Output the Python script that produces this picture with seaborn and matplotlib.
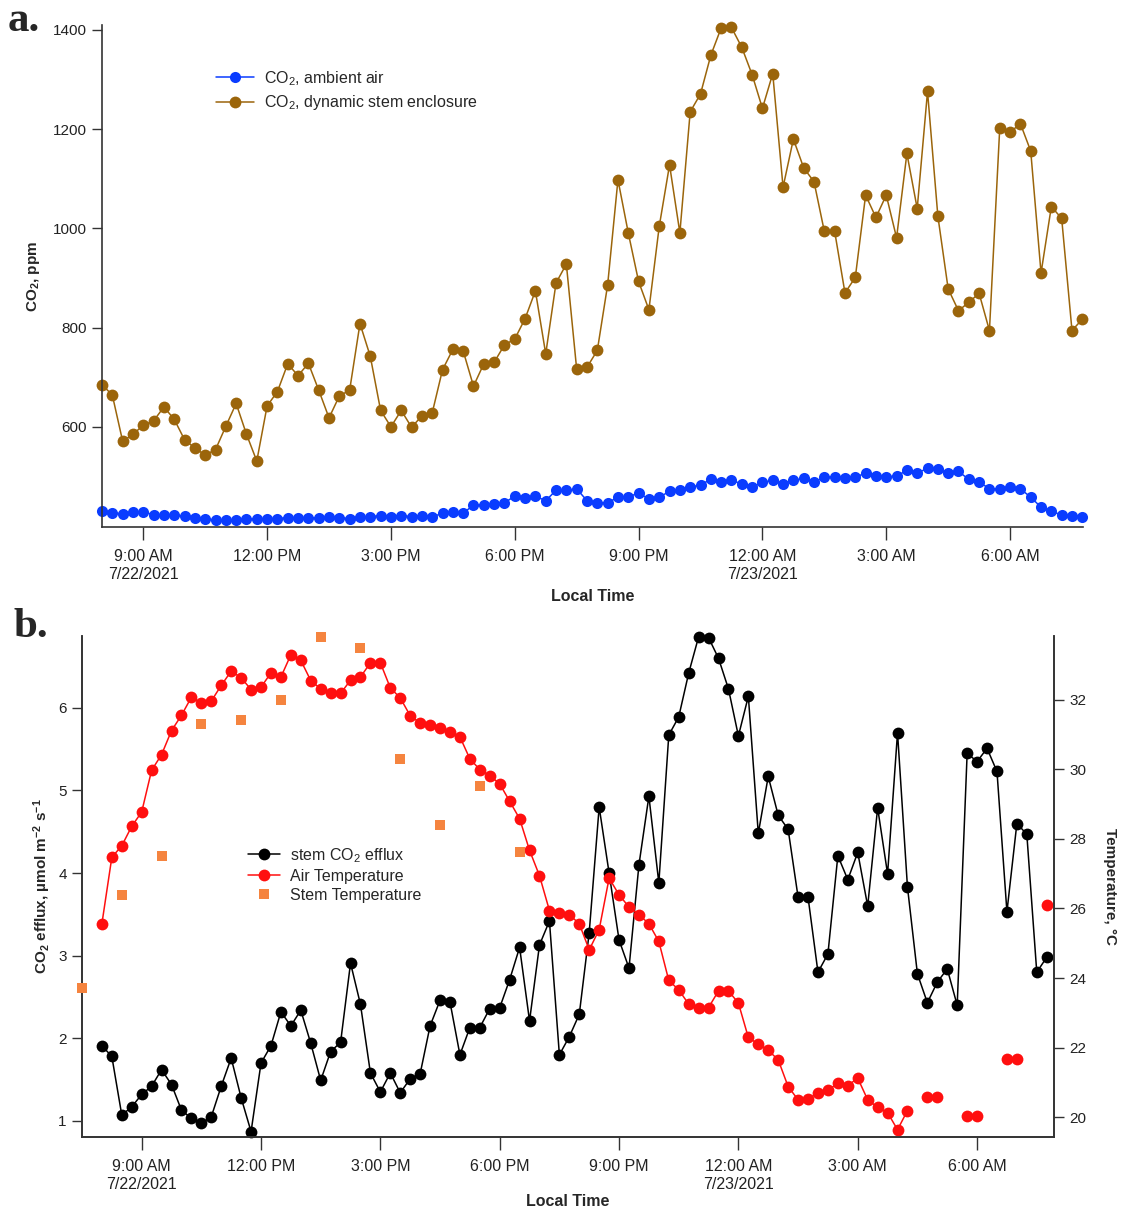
import numpy as np
import pandas as pd
import matplotlib
matplotlib.use("Agg")
import matplotlib.pyplot as plt
import matplotlib.dates as mdates
from matplotlib.lines import Line2D
import seaborn as sns

# ---------------- data ----------------
start_time = "2021-07-22 08:00"
n_points = 96
co2_ambient = [430, 426, 425, 428, 428, 423, 422, 422, 420, 417,
               415, 412, 412, 412, 414, 414, 415, 415, 417, 417,
               417, 416, 418, 417, 415, 418, 419, 421, 419, 421,
               419, 421, 418, 426, 428, 426, 442, 442, 444, 447,
               460, 457, 460, 451, 472, 472, 475, 451, 447, 447,
               458, 458, 467, 454, 458, 470, 472, 478, 483, 494,
               489, 492, 485, 478, 488, 492, 485, 492, 496, 489,
               498, 499, 496, 498, 507, 500, 499, 501, 512, 506,
               517, 515, 506, 510, 494, 489, 475, 475, 478, 475,
               458, 438, 430, 422, 420, 419]
co2_stem = [685, 664, 571, 585, 603, 612, 640, 615, 574, 557,
            543, 554, 601, 647, 585, 531, 642, 671, 727, 703,
            728, 674, 618, 662, 674, 808, 742, 633, 600, 633,
            599, 622, 628, 715, 756, 753, 682, 727, 730, 765,
            777, 818, 874, 747, 890, 928, 716, 720, 754, 886,
            1098, 991, 893, 836, 1004, 1128, 991, 1235, 1271, 1349,
            1404, 1405, 1365, 1310, 1242, 1312, 1083, 1180, 1122, 1094,
            994, 994, 870, 901, 1067, 1022, 1067, 981, 1151, 1040,
            1276, 1025, 878, 834, 851, 869, 794, 1203, 1194, 1211,
            1156, 910, 1044, 1020, 794, 817]
efflux = [1.91, 1.78, 1.07, 1.17, 1.32, 1.42, 1.62, 1.44, 1.13, 1.03,
          0.97, 1.05, 1.42, 1.76, 1.28, 0.87, 1.70, 1.91, 2.32, 2.15,
          2.34, 1.94, 1.49, 1.84, 1.95, 2.91, 2.41, 1.58, 1.35, 1.58,
          1.34, 1.51, 1.57, 2.15, 2.46, 2.44, 1.80, 2.13, 2.13, 2.36,
          2.37, 2.71, 3.10, 2.21, 3.13, 3.42, 1.80, 2.02, 2.29, 3.28,
          4.80, 4.00, 3.19, 2.85, 4.10, 4.93, 3.88, 5.67, 5.89, 6.42,
          6.86, 6.85, 6.60, 6.23, 5.66, 6.14, 4.48, 5.17, 4.70, 4.53,
          3.71, 3.71, 2.80, 3.02, 4.21, 3.92, 4.25, 3.60, 4.79, 3.99,
          5.70, 3.83, 2.78, 2.43, 2.68, 2.84, 2.40, 5.45, 5.35, 5.51,
          5.23, 3.53, 4.60, 4.47, 2.80, 2.98]
nan = np.nan
air_temp = [25.56, 27.47, 27.80, 28.36, 28.77, 29.97, 30.42, 31.11, 31.55, 32.07,
            31.91, 31.96, 32.41, 32.82, 32.63, 32.29, 32.36, 32.77, 32.65, 33.29,
            33.13, 32.55, 32.31, 32.18, 32.18, 32.56, 32.65, 33.06, 33.06, 32.34,
            32.05, 31.54, 31.33, 31.28, 31.19, 31.07, 30.93, 30.30, 29.99, 29.82,
            29.58, 29.08, 28.58, 27.67, 26.94, 25.94, 25.87, 25.82, 25.56, 24.81,
            25.39, 26.87, 26.39, 26.04, 25.82, 25.56, 25.05, 23.93, 23.66, 23.25,
            23.14, 23.15, 23.63, 23.63, 23.28, 22.29, 22.10, 21.92, 21.65, 20.88,
            20.50, 20.53, 20.69, 20.77, 20.98, 20.91, 21.12, 20.50, 20.28, 20.13,
            19.64, 20.19, nan, 20.57, 20.57, nan, nan, 20.02, 20.02, nan,
            nan, 21.67, 21.67, nan, nan, 26.11]
stem_temp_times = ["2021-07-22 07:30", "2021-07-22 08:30", "2021-07-22 09:30",
                   "2021-07-22 10:30", "2021-07-22 11:30", "2021-07-22 12:30",
                   "2021-07-22 13:30", "2021-07-22 14:30", "2021-07-22 15:30",
                   "2021-07-22 16:30", "2021-07-22 17:30", "2021-07-22 18:30"]
stem_temp = [23.71, 26.39, 27.50, 31.30, 31.41, 32.00, 33.81, 33.49, 30.30, 28.41,
             29.51, 27.61]

times = pd.date_range(start_time, periods=n_points, freq="15min")
df_top = pd.DataFrame({"time": times, "ambient": co2_ambient, "stem": co2_stem})
air = pd.Series(air_temp, dtype=float)
seg = (air.isna()).cumsum()
df_bot = pd.DataFrame({"time": times, "efflux": efflux, "air": air, "seg": seg})
df_bot_air = df_bot.dropna(subset=["air"])
df_stem = pd.DataFrame({"time": pd.to_datetime(stem_temp_times), "temp": stem_temp})

# ---------------- style ----------------
sns.set_theme(style="ticks")
plt.rcParams["font.family"] = ["Liberation Sans", "DejaVu Sans"]
plt.rcParams["mathtext.default"] = "regular"
SPINE = "#333333"

C_BLUE = "#0a3cff"
C_BROWN = "#9b650b"
C_RED = "#ff0f0f"
C_ORANGE = "#f5843f"

fig = plt.figure(figsize=(11.29, 12.15), dpi=100)
W, H = 1129, 1215
def rect(l, t, r, b):
    return [l / W, 1 - b / H, (r - l) / W, (b - t) / H]

ax1 = fig.add_axes(rect(102, 25, 1083, 527))
ax2 = fig.add_axes(rect(82, 636, 1054, 1137))
ax2r = ax2.twinx()

def time_fmt(x, pos=None):
    d = mdates.num2date(x)
    h = d.hour
    s = f"{(h % 12) or 12}:00 {'AM' if h < 12 else 'PM'}"
    if h == 0 or (h == 9 and d.day == 22):
        s += f"\n{d.month}/{d.day}/{d.year}"
    return s

tick_font = ["Liberation Sans", "DejaVu Sans"]

# ---------------- panel a ----------------
sns.lineplot(data=df_top, x="time", y="ambient", ax=ax1, color=C_BLUE, marker="o",
             markersize=8, markeredgewidth=0, linewidth=1.1, clip_on=False)
sns.lineplot(data=df_top, x="time", y="stem", ax=ax1, color=C_BROWN, marker="o",
             markersize=8.5, markeredgewidth=0, linewidth=1.1, clip_on=False)
ax1.set_xlim(pd.Timestamp("2021-07-22 08:00"), pd.Timestamp("2021-07-23 07:46"))
ax1.set_ylim(398, 1410)
ax1.set_yticks([600, 800, 1000, 1200, 1400])
sns.despine(ax=ax1)
ax1.set_ylabel("CO$_2$, ppm", fontsize=11, fontweight="bold", labelpad=8)
ax1.set_xlabel("Local Time", fontsize=11.5, fontweight="bold", labelpad=5)

leg1 = ax1.legend(handles=[
    Line2D([], [], color=C_BLUE, marker="o", markersize=8, markeredgewidth=0, lw=1.1),
    Line2D([], [], color=C_BROWN, marker="o", markersize=8.5, markeredgewidth=0, lw=1.1)],
    labels=["CO$_2$, ambient air", "CO$_2$, dynamic stem enclosure"],
    loc="upper left", bbox_to_anchor=(216 / W, 1 - 69 / H), bbox_transform=fig.transFigure,
    frameon=False, fontsize=11.5, handlelength=2.4, handletextpad=0.6,
    labelspacing=0.35, borderpad=0, borderaxespad=0)

# ---------------- panel b ----------------
sns.lineplot(data=df_bot, x="time", y="efflux", ax=ax2, color="black", marker="o",
             markersize=8.5, markeredgewidth=0, linewidth=1.1, clip_on=False)
sns.lineplot(data=df_bot_air, x="time", y="air", units="seg", estimator=None, ax=ax2r,
             color=C_RED, marker="o", markersize=8.5, markeredgewidth=0,
             linewidth=1.1, clip_on=False)
sns.scatterplot(data=df_stem, x="time", y="temp", ax=ax2r, color=C_ORANGE, marker="s",
                s=60, linewidth=0, clip_on=False, zorder=3)
ax2.set_xlim(pd.Timestamp("2021-07-22 07:30"), pd.Timestamp("2021-07-23 07:56"))
ax2.set_ylim(0.805, 6.87)
ax2r.set_ylim(19.43, 33.83)
ax2.set_yticks([1, 2, 3, 4, 5, 6])
ax2r.set_yticks([20, 22, 24, 26, 28, 30, 32])
ax2.spines["top"].set_visible(False)
ax2r.spines["top"].set_visible(False)
ax2.set_ylabel("CO$_2$ efflux, µmol m$^{-2}$ s$^{-1}$", fontsize=11, fontweight="bold",
               labelpad=4)
ax2r.set_ylabel("Temperature, °C", fontsize=11, fontweight="bold", rotation=270,
                labelpad=22)
ax2.set_xlabel("Local Time", fontsize=11.5, fontweight="bold", labelpad=2)

leg2 = ax2r.legend(handles=[
    Line2D([], [], color="black", marker="o", markersize=8.5, markeredgewidth=0, lw=1.1),
    Line2D([], [], color=C_RED, marker="o", markersize=8.5, markeredgewidth=0, lw=1.1),
    Line2D([], [], color=C_ORANGE, marker="s", markersize=7.5, markeredgewidth=0, lw=0)],
    labels=["stem CO$_2$ efflux", "Air Temperature", "Stem Temperature"],
    loc="upper left", bbox_to_anchor=(248 / W, 1 - 846 / H), bbox_transform=fig.transFigure,
    frameon=False, fontsize=11.5, handlelength=2.0, handletextpad=0.6,
    labelspacing=0.25, borderpad=0, borderaxespad=0)

# ---------------- common axis styling ----------------
for ax in (ax1, ax2, ax2r):
    for sp in ax.spines.values():
        sp.set_color(SPINE)
        sp.set_linewidth(1.2)
    ax.tick_params(axis="both", direction="out", length=7, width=1, color=SPINE,
                   labelsize=11, labelcolor="#222222")

for ax in (ax1, ax2):
    ax.xaxis.set_major_locator(mdates.HourLocator(byhour=range(0, 24, 3)))
    ax.xaxis.set_major_formatter(plt.FuncFormatter(time_fmt))
    ax.tick_params(axis="x", length=9, pad=7)
    for lab in ax.get_xticklabels():
        lab.set_fontsize(11.5)
        lab.set_multialignment("center")
ax1.tick_params(axis="y", pad=4)
ax2.tick_params(axis="y", pad=4)
ax2r.tick_params(axis="y", pad=4)
ax2r.set_xlabel("")

fig.text(8 / W, 1 - 2 / H, "a.", fontsize=31, fontweight="bold",
         family=["Liberation Serif", "DejaVu Serif"], va="top", ha="left")
fig.text(14 / W, 1 - 608 / H, "b.", fontsize=31, fontweight="bold",
         family=["Liberation Serif", "DejaVu Serif"], va="top", ha="left")

fig.savefig("out.png", dpi=100, facecolor="white")
